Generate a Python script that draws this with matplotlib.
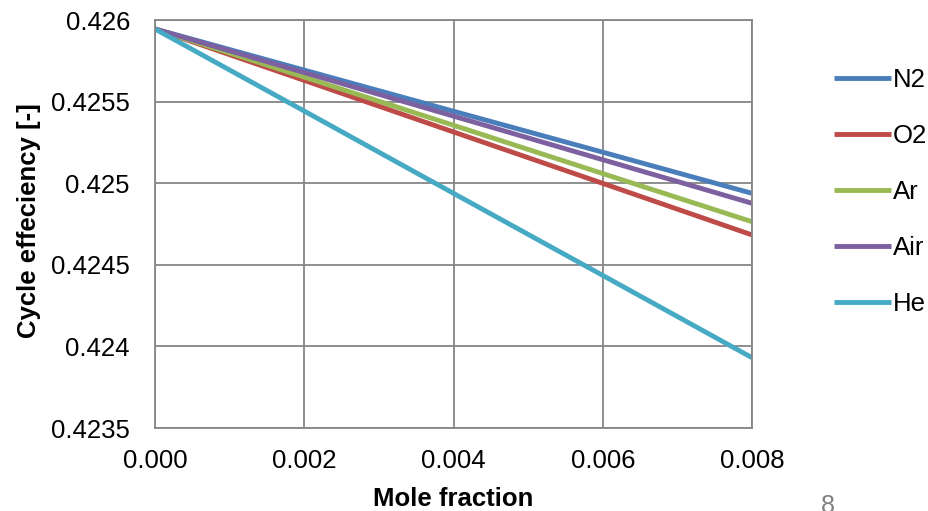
import matplotlib.pyplot as plt
import numpy as np

plt.rcParams['font.family'] = ['Liberation Sans', 'DejaVu Sans']

mole_fraction = [0.000, 0.002, 0.004, 0.006, 0.008]
n2 = [0.425945, 0.425693, 0.425441, 0.425190, 0.424938]
o2 = [0.425945, 0.425630, 0.425314, 0.424999, 0.424683]
ar = [0.425945, 0.425650, 0.425355, 0.425059, 0.424764]
air = [0.425945, 0.425678, 0.425411, 0.425144, 0.424877]
he = [0.425945, 0.425442, 0.424938, 0.424435, 0.423931]

series = [('N2', n2, '#4A7EBB'), ('O2', o2, '#BE4B48'), ('Ar', ar, '#98B954'),
          ('Air', air, '#7D60A0'), ('He', he, '#46AAC5')]

fs = 18.5

fig = plt.figure(figsize=(9.29, 5.11), dpi=100)
ax = fig.add_axes([155 / 929, 1 - 428 / 511, 597 / 929, 408 / 511])

for name, vals, color in series:
    ax.plot(mole_fraction, vals, color=color, lw=3.5, label=name, solid_capstyle='butt')

ax.set_xlim(0, 0.008)
ax.set_ylim(0.4235, 0.426)
ax.set_xticks(np.arange(0, 0.0081, 0.002))
ax.set_xticklabels(['%.3f' % v for v in np.arange(0, 0.0081, 0.002)])
yt = [0.4235, 0.424, 0.4245, 0.425, 0.4255, 0.426]
ax.set_yticks(yt)
ax.set_yticklabels(['%g' % v for v in yt])
ax.tick_params(length=0, labelsize=fs)
ax.tick_params(axis='y', pad=18)
ax.tick_params(axis='x', pad=15)
ax.grid(True, color='#868686', lw=1.3)
for s in ax.spines.values():
    s.set_color('#868686')
    s.set_linewidth(1.3)

ax.set_xlabel('Mole fraction', fontsize=fs, fontweight='bold', va='top')
ax.xaxis.set_label_coords(0.5, (428 - 487) / 408)
ax.set_ylabel('Cycle effeciency [-]', fontsize=fs, fontweight='bold')
ax.yaxis.set_label_coords((41 - 155) / 597, (428 - 221) / 408)

ax.legend(loc='center left', bbox_to_anchor=(834 / 929, 1 - 192 / 511),
          bbox_transform=fig.transFigure, frameon=False, fontsize=fs,
          handlelength=2.2, handletextpad=0.08, labelspacing=1.25,
          borderpad=0, borderaxespad=0)

# slide page number, partly cut off by the lower edge as in the reference
fig.text(828 / 929, 1 - 494 / 511, '8', color='#808080', fontsize=18, ha='center', va='top')

fig.savefig('out.png', dpi=100)
